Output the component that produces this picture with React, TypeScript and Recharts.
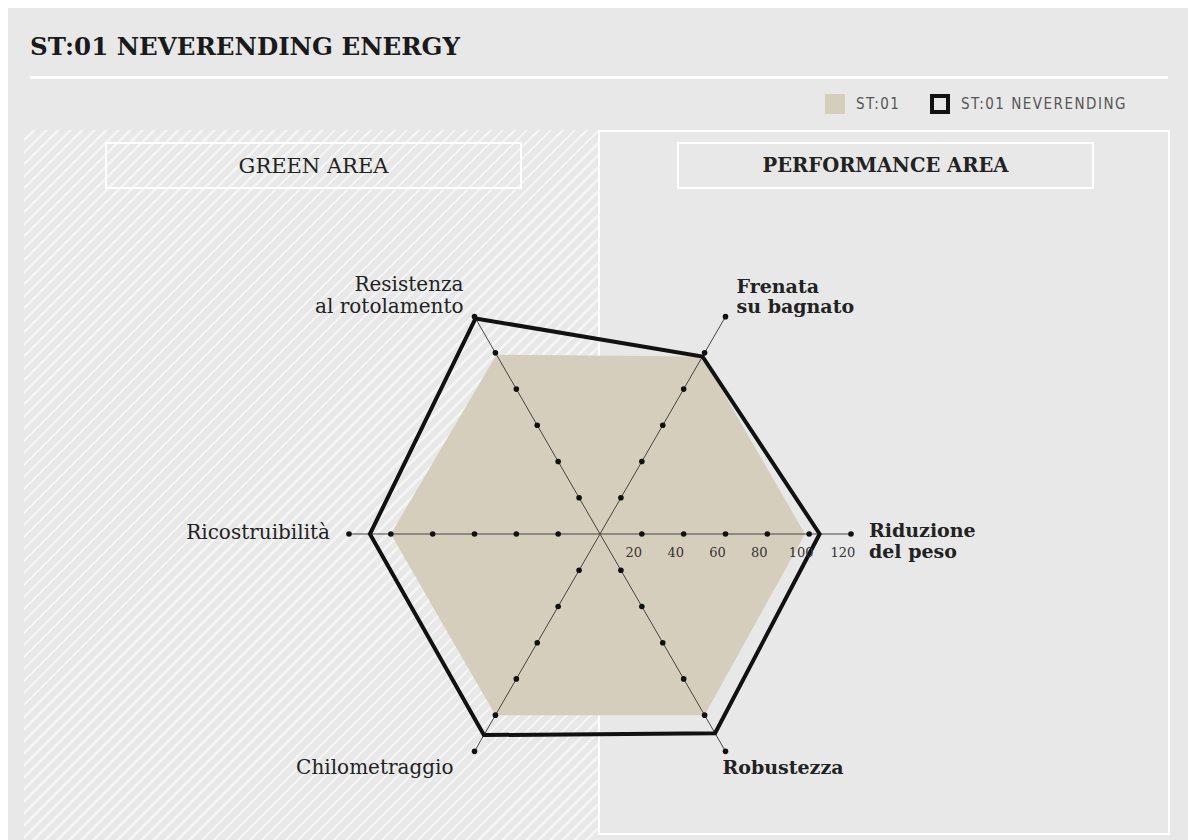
import React from "react";
import {
  RadarChart,
  Radar,
  PolarGrid,
  PolarAngleAxis,
  PolarRadiusAxis,
} from "recharts";

// assi del radar, in senso orario partendo da destra
const CATEGORIES = [
  "Riduzione\ndel peso",
  "Robustezza",
  "Chilometraggio",
  "Ricostruibilità",
  "Resistenza\nal rotolamento",
  "Frenata\nsu bagnato",
];
const ST01 = [98, 100, 100, 100, 99, 98];
const ST01_NEVERENDING = [105, 110, 111, 110, 119, 98];
const RADIUS_TICKS = [20, 40, 60, 80, 100, 120];
const SERIES_NAMES = ["ST:01", "ST:01 NEVERENDING"];

const data = CATEGORIES.map((name, i) => {
  const row: Record<string, number | string> = {
    name,
    st01: ST01[i],
    never: ST01_NEVERENDING[i],
  };
  RADIUS_TICKS.forEach((t) => (row[`t${t}`] = t));
  return row;
});

// posizione delle etichette rispetto alla punta dell'asse
const LABEL_LAYOUT: Record<string, { dx: number; dy: number; anchor: string; bold: boolean; gap: number }> = {
  "Riduzione\ndel peso": { dx: 10, dy: 3, anchor: "start", bold: true, gap: 21 },
  "Frenata\nsu bagnato": { dx: 7, dy: -17, anchor: "start", bold: true, gap: 20 },
  "Resistenza\nal rotolamento": { dx: -7, dy: -19, anchor: "end", bold: false, gap: 22 },
  "Ricostruibilità": { dx: -11, dy: 5, anchor: "end", bold: false, gap: 0 },
  "Chilometraggio": { dx: -17, dy: 16, anchor: "end", bold: false, gap: 0 },
  "Robustezza": { dx: -7, dy: 16, anchor: "start", bold: true, gap: 0 },
};

const SERIF = "'DejaVu Serif', serif";
const CX = 600;
const CY = 534;
const R = 251;

const AngleTick = (props: any) => {
  const { x, y, payload } = props;
  const name = payload.value as string;
  const lay = LABEL_LAYOUT[name];
  const lines = name.split("\n");
  return (
    <text
      x={x + lay.dx}
      y={y + lay.dy}
      textAnchor={lay.anchor as any}
      fontFamily={SERIF}
      fontSize={lay.bold ? 19 : 20}
      fontWeight={lay.bold ? 700 : 400}
      fill="#222"
    >
      {lines.map((l, i) => (
        <tspan key={i} x={x + lay.dx} dy={i === 0 ? 0 : lay.gap}>
          {l}
        </tspan>
      ))}
    </text>
  );
};

const RadiusTick = (props: any) => {
  const { x, y, payload } = props;
  if (!payload.value) return null;
  return (
    <text x={x - 8} y={y + 23} textAnchor="middle" fontFamily={SERIF} fontSize={13} fill="#333">
      {payload.value}
    </text>
  );
};

const chartProps = {
  width: 1188,
  height: 840,
  data,
  cx: CX,
  cy: CY,
  outerRadius: R,
  startAngle: 0,
  endAngle: -360,
};

const App = () => {
  return (
    <div style={{ position: "relative", width: 1188, height: 840, background: "#fff", overflow: "hidden" }}>
      <style>{"body{margin:0;overflow:hidden;background:#fff}"}</style>
      <div style={{ position: "absolute", left: 8, top: 8, width: 1180, height: 832, background: "#e8e8e8" }} />

      {/* area tratteggiata a sinistra */}
      <div
        style={{
          position: "absolute",
          left: 24,
          top: 130,
          width: 574,
          height: 710,
          background:
            "repeating-linear-gradient(135deg, #e8e8e8 0px, #e8e8e8 6px, #f4f4f4 6px, #f4f4f4 8.5px)",
        }}
      />
      <div
        style={{
          position: "absolute",
          left: 598,
          top: 130,
          width: 572,
          height: 705,
          border: "2px solid #fff",
          boxSizing: "border-box",
        }}
      />

      <div
        style={{
          position: "absolute",
          left: 30,
          top: 32,
          fontFamily: SERIF,
          fontWeight: 700,
          fontSize: 24.5,
          color: "#1a1a1a",
          whiteSpace: "nowrap",
        }}
      >
        ST:01 NEVERENDING ENERGY
      </div>
      <div style={{ position: "absolute", left: 30, top: 76, width: 1138, height: 3, background: "#fff" }} />

      {/* legenda */}
      {SERIES_NAMES.map((n, i) => (
        <div
          key={n}
          style={{
            position: "absolute",
            left: i === 0 ? 825 : 930,
            top: 94,
            display: "flex",
            alignItems: "center",
            gap: 11,
            fontFamily: "'DejaVu Sans Condensed', 'DejaVu Sans', sans-serif",
            fontSize: 15,
            letterSpacing: 1.5,
            color: "#555",
          }}
        >
          <div
            style={{
              width: 20,
              height: 20,
              boxSizing: "border-box",
              background: i === 0 ? "#d6cebc" : "transparent",
              border: i === 0 ? "none" : "4px solid #111",
            }}
          />
          <span>{n}</span>
        </div>
      ))}

      {[
        { label: "GREEN AREA", left: 105, bold: false },
        { label: "PERFORMANCE AREA", left: 677, bold: true },
      ].map((b) => (
        <div
          key={b.label}
          style={{
            position: "absolute",
            left: b.left,
            top: 142,
            width: 417,
            height: 47,
            border: "2px solid #fff",
            boxSizing: "border-box",
            display: "flex",
            alignItems: "center",
            justifyContent: "center",
            fontFamily: SERIF,
            fontSize: b.bold ? 19.5 : 21,
            fontWeight: b.bold ? 700 : 400,
            color: "#222",
          }}
        >
          {b.label}
        </div>
      ))}

      {/* livello sotto: area ST:01 */}
      <div style={{ position: "absolute", left: 0, top: 0 }}>
        <RadarChart {...chartProps}>
          <PolarAngleAxis dataKey="name" tick={false} tickLine={false} axisLine={false} />
          <PolarRadiusAxis domain={[0, 120]} tick={false} axisLine={false} />
          <Radar
            dataKey="st01"
            name={SERIES_NAMES[0]}
            stroke="none"
            fill="#d6cebc"
            fillOpacity={1}
            isAnimationActive={false}
          />
        </RadarChart>
      </div>

      {/* livello sopra: assi, punti e linea ST:01 NEVERENDING */}
      <div style={{ position: "absolute", left: 0, top: 0 }}>
        <RadarChart {...chartProps}>
          <PolarGrid polarRadius={[]} radialLines stroke="#444" strokeWidth={1} />
          <PolarAngleAxis dataKey="name" tick={<AngleTick />} tickLine={false} axisLine={false} />
          <PolarRadiusAxis
            angle={0}
            domain={[0, 120]}
            tickCount={7}
            axisLine={false}
            tick={<RadiusTick />}
          />
          {RADIUS_TICKS.map((t) => (
            <Radar
              key={t}
              dataKey={`t${t}`}
              stroke="none"
              fill="none"
              dot={{ r: 2.8, fill: "#111", stroke: "none" }}
              isAnimationActive={false}
            />
          ))}
          <Radar
            dataKey="never"
            name={SERIES_NAMES[1]}
            stroke="#111"
            strokeWidth={4}
            strokeLinejoin="miter"
            fill="none"
            isAnimationActive={false}
          />
        </RadarChart>
      </div>
    </div>
  );
};

export default App;
